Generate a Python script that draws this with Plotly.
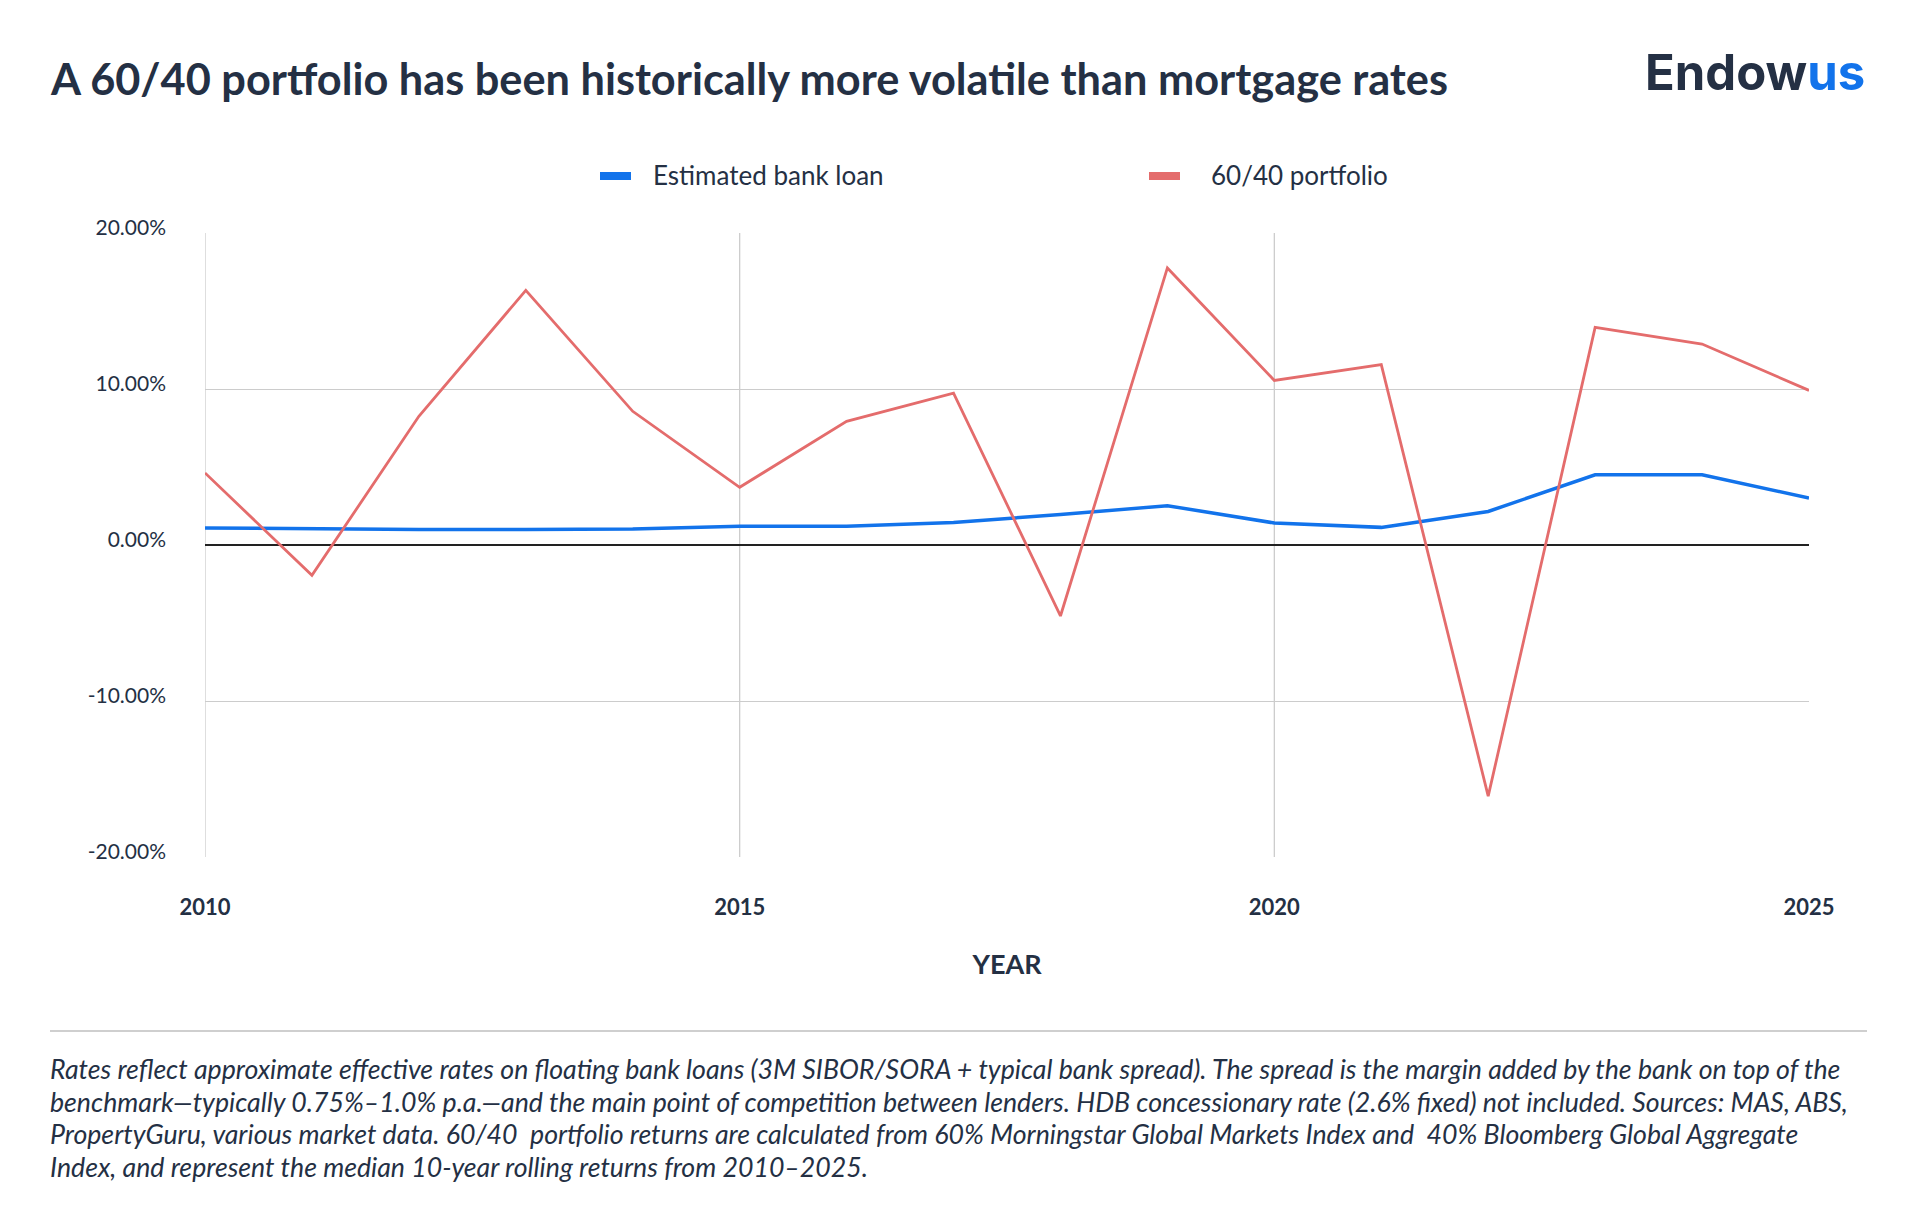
import plotly.graph_objects as go

years = list(range(2010, 2026))
bank_loan = [1.09, 1.03, 1.0, 1.0, 1.02, 1.2, 1.2, 1.45, 1.95, 2.52, 1.41, 1.13, 2.15, 4.5, 4.5, 3.01]
portfolio = [4.62, -1.94, 8.25, 16.32, 8.57, 3.70, 7.93, 9.74, -4.55, 17.76, 10.55, 11.56, -16.1, 13.95, 12.88, 9.91]
series_names = ["Estimated bank loan", "60/40 portfolio"]

y_tickvals = [-20, -10, 0, 10, 20]
y_ticktext = ["-20.00%", "-10.00%", "0.00%", "10.00%", "20.00%"]
x_tickvals = [2010, 2015, 2020, 2025]
x_gridvals = [2010, 2015, 2020]

title_text = "A 60/40 portfolio has been historically more volatile than mortgage rates"
footnote_lines = [
    "Rates reflect approximate effective rates on floating bank loans (3M SIBOR/SORA + typical bank spread). The spread is the margin added by the bank on top of the",
    "benchmark\u2014typically 0.75%\u20131.0% p.a.\u2014and the main point of competition between lenders. HDB concessionary rate (2.6% fixed) not included. Sources: MAS, ABS,",
    "PropertyGuru, various market data. 60/40  portfolio returns are calculated from 60% Morningstar Global Markets Index and  40% Bloomberg Global Aggregate",
    "Index, and represent the median 10-year rolling returns from 2010\u20132025.",
]

NAVY = "#243044"
BLUE = "#1273eb"
RED = "#e46c6c"
colors = [BLUE, RED]

L, R, T, B = 205, 111, 233, 375
PW = 1920 - L - R
PH = 1232 - T - B


def px_x(x):
    return (x - L) / PW


def px_y(y):
    return (1232 - B - y) / PH


fig = go.Figure()
fig.add_trace(go.Scatter(x=years, y=bank_loan, mode="lines", name=series_names[0],
                         line=dict(color=BLUE, width=3.5), showlegend=False))
fig.add_trace(go.Scatter(x=years, y=portfolio, mode="lines", name=series_names[1],
                         line=dict(color=RED, width=2.8), showlegend=False))

for xv in x_gridvals:
    fig.add_shape(type="line", xref="x", yref="paper", x0=xv, x1=xv, y0=0, y1=1,
                  line=dict(color="#cccccc", width=1.3), layer="below")

# custom legend (bar swatch + label)
legend_swatch_x = [600, 1149]
legend_text_x = [651, 1209]
for name, col, sx, tx in zip(series_names, colors, legend_swatch_x, legend_text_x):
    fig.add_shape(type="line", xref="paper", yref="paper", x0=px_x(sx), x1=px_x(sx + 31),
                  y0=px_y(176), y1=px_y(176), line=dict(color=col, width=8))
    fig.add_annotation(text=name, xref="paper", yref="paper", x=px_x(tx), y=px_y(175),
                       xanchor="left", yanchor="middle", showarrow=False,
                       font=dict(family="Lato", size=26, color=NAVY))

fig.update_layout(
    width=1920, height=1232,
    margin=dict(l=L, r=R, t=T, b=B, autoexpand=False),
    paper_bgcolor="white", plot_bgcolor="white",
    font=dict(family="Lato", color=NAVY),
    showlegend=False,
    xaxis=dict(range=[2010, 2025], tickvals=x_tickvals, ticktext=[str(v) for v in x_tickvals],
               showgrid=False, zeroline=False, showline=False, ticks="", ticklabelstandoff=35,
               tickfont=dict(family="Lato", size=22, color=NAVY, weight="bold"),
               title=dict(text="YEAR", font=dict(family="Lato", size=27, color=NAVY, weight="bold"), standoff=36)),
    yaxis=dict(range=[-20, 20], tickvals=y_tickvals, ticktext=y_ticktext,
               showgrid=True, gridcolor="#cccccc", gridwidth=1.3,
               zeroline=True, zerolinecolor="#222222", zerolinewidth=1.5,
               showline=False, ticks="", ticklabelstandoff=38, ticklabelshift=-5,
               tickfont=dict(family="Lato", size=21, color=NAVY)),
)

fig.add_annotation(text=f"<b>{title_text}</b>", xref="paper", yref="paper", x=px_x(48), y=px_y(78),
                   xanchor="left", yanchor="middle", showarrow=False,
                   font=dict(family="Lato", size=43.3, color=NAVY))
fig.add_annotation(text="Endow<span style='color:%s'>us</span>" % BLUE, xref="paper", yref="paper",
                   x=px_x(1867), y=px_y(72),
                   xanchor="right", yanchor="middle", showarrow=False,
                   font=dict(family="Inter", size=49, color=NAVY, weight=700))

fig.add_shape(type="line", xref="paper", yref="paper", x0=px_x(50), x1=px_x(1867),
              y0=px_y(1031), y1=px_y(1031), line=dict(color="#cfcfcf", width=2))

for i, line in enumerate(footnote_lines):
    ypix = 1069 + i * 32.7
    fig.add_annotation(text=f"<i>{line}</i>", xref="paper", yref="paper", x=px_x(48),
                       y=px_y(ypix), xanchor="left", yanchor="middle", showarrow=False,
                       font=dict(family="Lato", size=26.7, color=NAVY))

fig.write_html("out.html")
